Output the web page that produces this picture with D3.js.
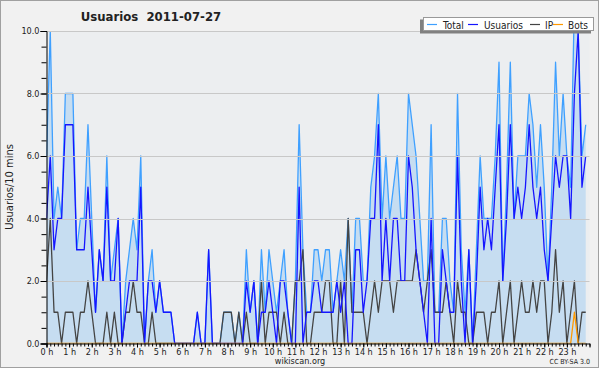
<!DOCTYPE html>
<html>
<head>
<meta charset="utf-8">
<style>
	body { margin: 0; background: #fff; }
	text { font-family: "DejaVu Sans Condensed", "Liberation Sans", sans-serif; fill: #222; }
	.tick text { font-size: 9px; font-family: "DejaVu Sans Condensed", "DejaVu Sans", sans-serif; }
	.domain { stroke: #000; }
	.tick line { stroke: #000; }
</style>
</head>
<body>
<div id="chart"></div>
<script src="https://cdn.jsdelivr.net/npm/d3@7"></script>
<script>
	// 10-minute slots, 144 per day
	const hourLabels = d3.range(24).map(h => h + " h");
	const yTicks = [0, 2, 4, 6, 8, 10];

	const total = [
		6, 10, 4, 5, 4, 8, 8, 8, 3, 4, 4, 7, 4, 1, 3, 2, 6, 2, 3, 4, 0, 2, 3, 4,
		3, 6, 0, 2, 3, 1, 2, 1, 1, 1, 0, 0, 0, 0, 0, 0, 1, 0, 0, 3, 0, 0, 0, 1,
		1, 1, 0, 1, 0, 3, 1, 2, 0, 3, 1, 3, 2, 1, 2, 3, 1, 0, 2, 7, 3, 1, 1, 3,
		3, 2, 3, 3, 1, 2, 3, 2, 4, 1, 4, 4, 2, 2, 5, 6, 8, 4, 6, 4, 5, 6, 4, 4,
		8, 7, 6, 4, 2, 2, 7, 1, 1, 4, 4, 2, 1, 8, 3, 1, 3, 0, 3, 6, 4, 4, 4, 6,
		9, 2, 5, 9, 4, 6, 6, 6, 8, 7, 5, 7, 5, 2, 5, 9, 6, 8, 6, 5, 11, 10, 6, 7
	];
	const usuarios = [
		4, 6, 3, 4, 4, 7, 7, 7, 3, 3, 3, 5, 3, 1, 3, 2, 5, 2, 2, 4, 0, 1, 2, 2,
		2, 5, 0, 2, 2, 1, 2, 1, 1, 1, 0, 0, 0, 0, 0, 0, 1, 0, 0, 3, 0, 0, 0, 0,
		0, 0, 0, 0, 0, 2, 1, 2, 0, 1, 1, 2, 1, 0, 2, 2, 1, 0, 0, 5, 0, 1, 1, 2,
		2, 1, 1, 1, 1, 2, 1, 2, 0, 0, 3, 3, 1, 2, 4, 4, 7, 2, 4, 2, 4, 4, 2, 2,
		6, 5, 3, 2, 1, 0, 4, 0, 0, 3, 2, 1, 1, 6, 2, 0, 3, 0, 2, 5, 3, 4, 3, 5,
		7, 2, 4, 7, 4, 5, 4, 5, 7, 5, 4, 5, 3, 2, 4, 6, 5, 6, 6, 4, 8, 10, 5, 6
	];
	const ip = [
		2, 4, 1, 1, 0, 1, 1, 1, 0, 1, 1, 2, 1, 0, 0, 0, 1, 0, 1, 0, 0, 1, 1, 2,
		1, 1, 0, 0, 1, 0, 0, 0, 0, 0, 0, 0, 0, 0, 0, 0, 0, 0, 0, 0, 0, 0, 0, 1,
		1, 1, 0, 1, 0, 1, 0, 0, 0, 2, 0, 1, 1, 1, 0, 1, 0, 0, 2, 2, 3, 0, 0, 1,
		1, 1, 2, 2, 0, 0, 2, 0, 4, 1, 1, 1, 1, 0, 1, 2, 1, 2, 2, 2, 1, 2, 2, 2,
		2, 2, 3, 2, 1, 2, 3, 1, 1, 1, 2, 1, 0, 2, 1, 1, 0, 0, 1, 1, 1, 0, 1, 1,
		2, 0, 1, 2, 0, 1, 2, 1, 1, 2, 1, 2, 2, 0, 1, 3, 1, 2, 0, 1, 2, 0, 1, 1
	];
	const bots = [
		0, 0, 0, 0, 0, 0, 0, 0, 0, 0, 0, 0, 0, 0, 0, 0, 0, 0, 0, 0, 0, 0, 0, 0,
		0, 0, 0, 0, 0, 0, 0, 0, 0, 0, 0, 0, 0, 0, 0, 0, 0, 0, 0, 0, 0, 0, 0, 0,
		0, 0, 0, 0, 0, 0, 0, 0, 0, 0, 0, 0, 0, 0, 0, 0, 0, 0, 0, 0, 0, 0, 0, 0,
		0, 0, 0, 0, 0, 0, 0, 0, 0, 0, 0, 0, 0, 0, 0, 0, 0, 0, 0, 0, 0, 0, 0, 0,
		0, 0, 0, 0, 0, 0, 0, 0, 0, 0, 0, 0, 0, 0, 0, 0, 0, 0, 0, 0, 0, 0, 0, 0,
		0, 0, 0, 0, 0, 0, 0, 0, 0, 0, 0, 0, 0, 0, 0, 0, 0, 0, 0, 0, 1, 0, 0, 0
	];

	const legendItems = [
		{ name: "Total", color: "#3fa0ff", lx: 427, tx: 443 },
		{ name: "Usuarios", color: "#1515ff", lx: 468, tx: 484 },
		{ name: "IP", color: "#444", lx: 530, tx: 545 },
		{ name: "Bots", color: "#ff9900", lx: 553, tx: 568 }
	];

	const W = 600, H = 370;
	const plot = { left: 46.5, right: 589.5, top: 31, bottom: 343.5 };

	const svg = d3.select("#chart").append("svg")
		.attr("width", W)
		.attr("height", H);

	// frame
	svg.append("rect")
		.attr("x", 0.5).attr("y", 0.5)
		.attr("width", 598).attr("height", 367)
		.attr("fill", "#f1f1f1")
		.attr("stroke", "#a0a0a0");

	svg.append("rect")
		.attr("x", plot.left).attr("y", plot.top)
		.attr("width", plot.right - plot.left).attr("height", plot.bottom - plot.top)
		.attr("fill", "#eceef0");

	const x = d3.scaleLinear().domain([0, 144]).range([plot.left, plot.right]);
	const y = d3.scaleLinear().domain([0, 10]).range([plot.bottom, plot.top]);

	svg.append("clipPath").attr("id", "clip")
		.append("rect")
		.attr("x", plot.left).attr("y", plot.top)
		.attr("width", plot.right - plot.left).attr("height", plot.bottom - plot.top);

	const g = svg.append("g").attr("clip-path", "url(#clip)");

	const area = d3.area()
		.x((d, i) => x(i))
		.y0(y(0))
		.y1(d => y(d));

	g.append("path")
		.datum(total)
		.attr("fill", "#c6ddf1")
		.attr("d", area);

	// grid
	svg.append("g")
		.selectAll("line")
		.data(yTicks.slice(1))
		.join("line")
		.attr("x1", plot.left).attr("x2", plot.right)
		.attr("y1", d => Math.round(y(d)) + 0.5).attr("y2", d => Math.round(y(d)) + 0.5)
		.attr("stroke", "#c8c8c8");

	const line = d3.line()
		.x((d, i) => x(i))
		.y(d => y(d));

	const series = [
		{ data: total, color: legendItems[0].color },
		{ data: ip, color: legendItems[2].color },
		{ data: usuarios, color: legendItems[1].color },
		{ data: bots, color: legendItems[3].color }
	];

	series.forEach(s => {
		g.append("path")
			.datum(s.data)
			.attr("fill", "none")
			.attr("stroke", s.color)
			.attr("stroke-width", 1.3)
			.attr("stroke-linejoin", "round")
			.attr("d", line);
	});

	// y axis
	svg.append("g")
		.attr("transform", `translate(${plot.left},0)`)
		.call(d3.axisLeft(y).tickValues(d3.range(0, 10.01, 0.5)).tickSize(5).tickFormat(""))
		.call(a => a.select(".domain").remove());

	svg.append("g")
		.attr("transform", `translate(${plot.left},0)`)
		.call(d3.axisLeft(y).tickValues(yTicks).tickSize(6).tickPadding(1).tickFormat(d3.format(".1f")))
		.call(a => a.selectAll(".tick text").attr("fill", "#333"));

	// x axis
	svg.append("g")
		.attr("transform", `translate(0,${plot.bottom})`)
		.call(d3.axisBottom(x).tickValues(d3.range(0, 145)).tickSize(3).tickFormat(""))
		.call(a => a.select(".domain").remove());

	svg.append("g")
		.attr("transform", `translate(0,${plot.bottom})`)
		.call(d3.axisBottom(x).tickValues(d3.range(0, 144, 6)).tickSize(4).tickPadding(1)
			.tickFormat((d, i) => hourLabels[i]))
		.call(a => a.selectAll(".tick text").attr("fill", "#333"));

	// title
	svg.append("text")
		.attr("x", 151).attr("y", 21)
		.attr("text-anchor", "middle")
		.style("font-size", "13px")
		.style("font-weight", "bold")
		.style("white-space", "pre")
		.text("Usuarios  2011-07-27");

	// y label
	svg.append("text")
		.attr("transform", "translate(13,187) rotate(-90)")
		.attr("text-anchor", "middle")
		.style("font-size", "11px")
		.text("Usuarios/10 mins");

	// footer
	svg.append("text")
		.attr("x", 300).attr("y", 364)
		.attr("text-anchor", "middle")
		.style("font-size", "9px")
		.attr("fill", "#333")
		.text("wikiscan.org");

	svg.append("text")
		.attr("x", 590).attr("y", 364)
		.attr("text-anchor", "end")
		.style("font-size", "7px")
		.attr("fill", "#444")
		.text("CC BY-SA 3.0");

	// legend
	const leg = svg.append("g");
	leg.append("rect")
		.attr("x", 420).attr("y", 19.5)
		.attr("width", 171).attr("height", 14)
		.attr("fill", "#808080");
	leg.append("rect")
		.attr("x", 423.5).attr("y", 17.5)
		.attr("width", 170).attr("height", 13)
		.attr("fill", "#fff")
		.attr("stroke", "#999");

	legendItems.forEach(it => {
		leg.append("line")
			.attr("x1", it.lx).attr("x2", it.lx + 10)
			.attr("y1", 24.5).attr("y2", 24.5)
			.attr("stroke", it.color)
			.attr("stroke-width", 1.2);
		leg.append("text")
			.attr("x", it.tx).attr("y", 28.5)
			.style("font-size", "10px")
			.text(it.name);
	});
</script>
</body>
</html>
